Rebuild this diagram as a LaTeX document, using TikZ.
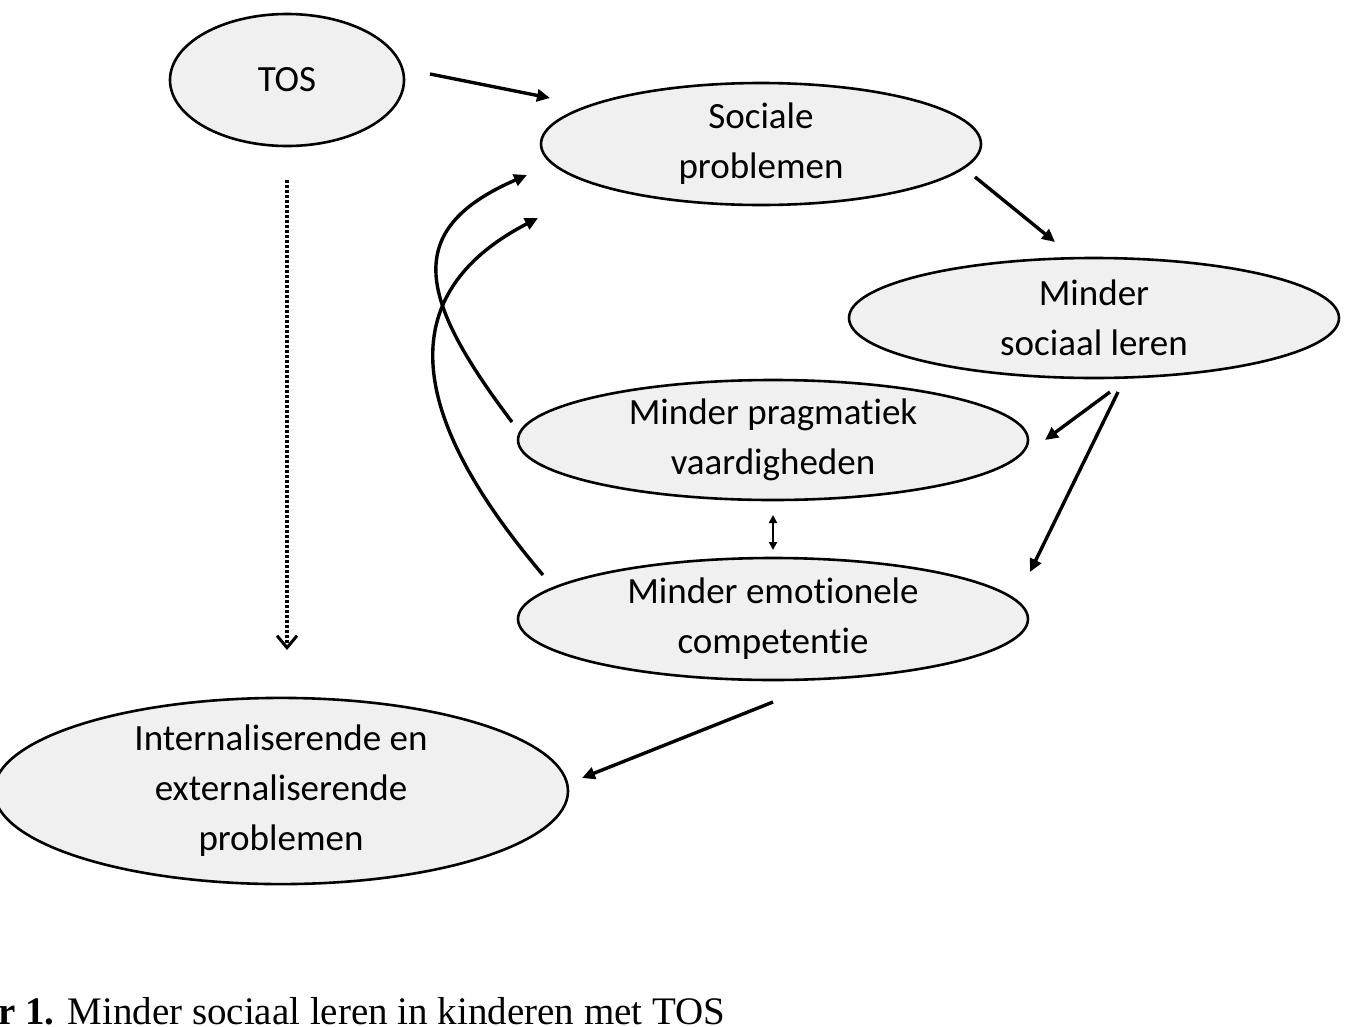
\documentclass[tikz,border=0pt]{standalone}
\usepackage{fontspec}
\setmainfont{Carlito}[Ligatures=NoCommon]
\newfontfamily\capfont{Liberation Serif}
\usetikzlibrary{shapes.geometric,arrows.meta}
\begin{document}
\begin{tikzpicture}[x=1pt,y=-1pt,
  el/.style={ellipse,draw,line width=2.6pt,fill=gray!12,inner sep=0pt,align=center,font=\fontsize{37}{50}\selectfont},
  ar/.style={line width=3.4pt,-{Triangle[length=13pt,width=12pt]}}]
\useasboundingbox (0,0) rectangle (1363,1026);
\node[el,minimum width=234pt,minimum height=132pt] (tos) at (287,80) {TOS};
\node[el,minimum width=440pt,minimum height=122pt] (soc) at (761,144) {Sociale\\problemen};
\node[el,minimum width=490pt,minimum height=120pt] (msl) at (1094,318) {Minder\\sociaal leren};
\node[el,minimum width=510pt,minimum height=120pt] (prag) at (773,440) {Minder pragmatiek\\vaardigheden};
\node[el,minimum width=510pt,minimum height=122pt] (emo) at (773,619) {Minder emotionele\\competentie};
\node[el,minimum width=574pt,minimum height=182pt] (int) at (281,791) {Internaliserende en\\externaliserende\\problemen};
\coordinate (a1) at (430,74); \coordinate (a2) at (550,98);
\coordinate (b1) at (975,177); \coordinate (b2) at (1055,242);
\coordinate (c1) at (1110,392); \coordinate (c2) at (1045,440);
\coordinate (d1) at (1118,392); \coordinate (d2) at (1030,572);
\coordinate (e1) at (773,515); \coordinate (e2) at (773,550);
\coordinate (f1) at (512,422); \coordinate (f2) at (527,175);
\coordinate (g1) at (543,575); \coordinate (g2) at (538,218);
\coordinate (h1) at (773,702); \coordinate (h2) at (582,778);
\coordinate (i1) at (287,180); \coordinate (i2) at (287,650);
\draw[ar] (a1) -- (a2);
\draw[ar] (b1) -- (b2);
\draw[ar] (c1) -- (c2);
\draw[ar] (d1) -- (d2);
\draw[line width=2.4pt,{Triangle[length=8pt,width=8pt]}-{Triangle[length=8pt,width=8pt]}] (e1) -- (e2);
\draw[ar] (f1) .. controls (420,300) and (400,230) .. (f2);
\draw[ar] (g1) .. controls (420,430) and (380,300) .. (g2);
\draw[ar] (h1) -- (h2);
\draw[line width=3.4pt,dash pattern=on 3pt off 2pt,-{Straight Barb[length=12pt,width=20pt,line width=3pt]}] (i1) -- (i2);
\node[anchor=base west,inner sep=0pt,font=\capfont\fontsize{39}{44}\selectfont] (cap) at (-2,1024) {\textbf{r 1.} Minder sociaal leren in kinderen met TOS};
\end{tikzpicture}
\end{document}
